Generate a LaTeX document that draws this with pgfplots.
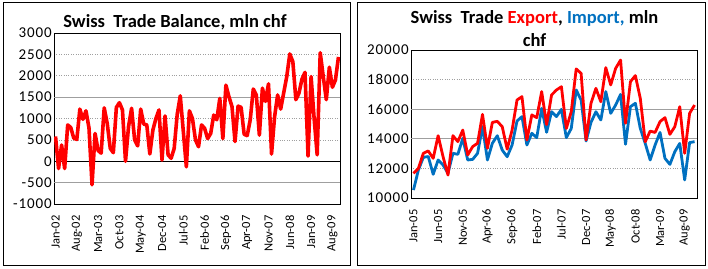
\documentclass[border=0pt]{standalone}
\usepackage{pgfplots}
\pgfplotsset{compat=1.18}
\usepackage{pgfplotstable}
\usepackage{fontspec}
\setmainfont{Carlito}
\definecolor{myblue}{RGB}{0,112,192}

\pgfplotstableread{
i v
0 580
1 -170
2 380
3 -170
4 850
5 790
6 540
7 510
8 1220
9 980
10 1180
11 780
12 -550
13 650
14 250
15 190
16 1250
17 880
18 300
19 200
20 1260
21 1370
22 1200
23 0
24 810
25 1240
26 500
27 360
28 1220
29 870
30 850
31 170
32 730
33 1000
34 1200
35 30
36 1060
37 150
38 70
39 300
40 1100
41 1530
42 700
43 -130
44 1180
45 1000
46 500
47 340
48 850
49 770
50 530
51 650
52 1080
53 970
54 1470
55 530
56 1780
57 1510
58 1280
59 460
60 1290
61 1260
62 630
63 600
64 970
65 1690
66 1550
67 610
68 1710
69 1400
70 1810
71 170
72 1040
73 1550
74 1220
75 1600
76 1980
77 2510
78 2330
79 1440
80 1590
81 1920
82 2080
83 120
84 1980
85 1000
86 150
87 2540
88 1980
89 1440
90 2200
91 1730
92 1900
93 2440
}\balance

\pgfplotstableread{
i ex im
0 11670 10540
1 12000 11890
2 13020 12750
3 13180 12800
4 12680 11600
5 14210 12570
6 12790 12230
7 11550 11670
8 14210 13020
9 13810 12950
10 14590 14030
11 12910 12570
12 13470 12610
13 13700 13020
14 15650 14820
15 13360 12570
16 15110 13700
17 15180 14210
18 14820 13240
19 13300 12790
20 14590 13580
21 16620 15200
22 16850 15500
23 13920 13580
24 15610 14370
25 15430 14080
26 17190 16060
27 14960 14440
28 16960 15830
29 17300 15500
30 17520 15990
31 14700 14080
32 15830 14700
33 18720 17300
34 18420 16620
35 13920 13850
36 16400 15110
37 17410 15830
38 16500 15270
39 18810 17190
40 17640 15720
41 18760 16280
42 19320 17000
43 15050 13630
44 17860 16170
45 18270 16400
46 16730 14700
47 13800 13690
48 14520 12570
49 14430 13580
50 15160 14430
51 15430 12680
52 14300 12270
53 14820 13130
54 16170 13690
55 13020 11220
56 15720 13740
57 16280 13810
}\trade

\pgfplotsset{
  chartstyle/.style={
    scale only axis, anchor=south west,
    major tick length=0pt,
    axis line style={black, line width=0.8pt},
    ymajorgrids,
    grid style={gray!75, dotted, line width=0.7pt},
    extra y tick labels={},
    extra y tick style={major grid style={gray!75, solid, line width=0.8pt}},
    scaled y ticks=false,
    /pgf/number format/assume math mode=true,
    /pgf/number format/1000 sep={},
    yticklabel style={font=\fontsize{15}{15}\selectfont\addfontfeatures{LetterSpace=6}, xshift=0pt, inner sep=2pt},
    xticklabel style={rotate=90, anchor=east, font=\fontsize{12.5}{12.5}\selectfont},
    xticklabel shift=8pt,
  }
}

\begin{document}
\begin{tikzpicture}[x=1pt,y=1pt]
\path[use as bounding box] (0,0) rectangle (708,268);
\draw[black, line width=1pt] (3,3) rectangle (350,265);
\draw[black, line width=1pt] (357,3) rectangle (705,265);

\node[font=\fontsize{18.5}{18.5}\selectfont\bfseries] at (175,246) {Swiss\ \ Trade Balance, mln chf};
\node[font=\fontsize{18.5}{18.5}\selectfont\bfseries] at (534.5,250) {Swiss\ \ Trade \textcolor{red}{Export}, \textcolor{myblue}{Import,} mln};
\node[font=\fontsize{18.5}{18.5}\selectfont\bfseries] at (534.5,228) {chf};

\begin{axis}[chartstyle,
  at={(54pt,64pt)}, width=286pt, height=171pt,
  xmin=-0.5, xmax=93.5, ymin=-1000, ymax=3000,
  ytick={-1000,-500,...,3000},
  extra y ticks={-500,1500},
  xtick={0,7,...,91},
  xticklabels={Jan-02,Aug-02,Mar-03,Oct-03,May-04,Dec-04,Jul-05,Feb-06,Sep-06,Apr-07,Nov-07,Jun-08,Jan-09,Aug-09},
]
\draw[black, line width=0.8pt] (axis cs:-0.5,0) -- (axis cs:93.5,0);
\addplot[red, line width=3.6pt, line join=round, no markers] table[x=i, y=v] {\balance};
\end{axis}

\begin{axis}[chartstyle,
  at={(411pt,70pt)}, width=286pt, height=148pt,
  xmin=-0.5, xmax=57.5, ymin=10000, ymax=20000,
  ytick={10000,12000,...,20000},
  extra y ticks={14000,16000},
  xtick={0,5,...,55},
  xticklabels={Jan-05,Jun-05,Nov-05,Apr-06,Sep-06,Feb-07,Jul-07,Dec-07,May-08,Oct-08,Mar-09,Aug-09},
]
\addplot[myblue, line width=2.8pt, line join=round, no markers] table[x=i, y=im] {\trade};
\addplot[red, line width=2.8pt, line join=round, no markers] table[x=i, y=ex] {\trade};
\end{axis}
\end{tikzpicture}
\end{document}
